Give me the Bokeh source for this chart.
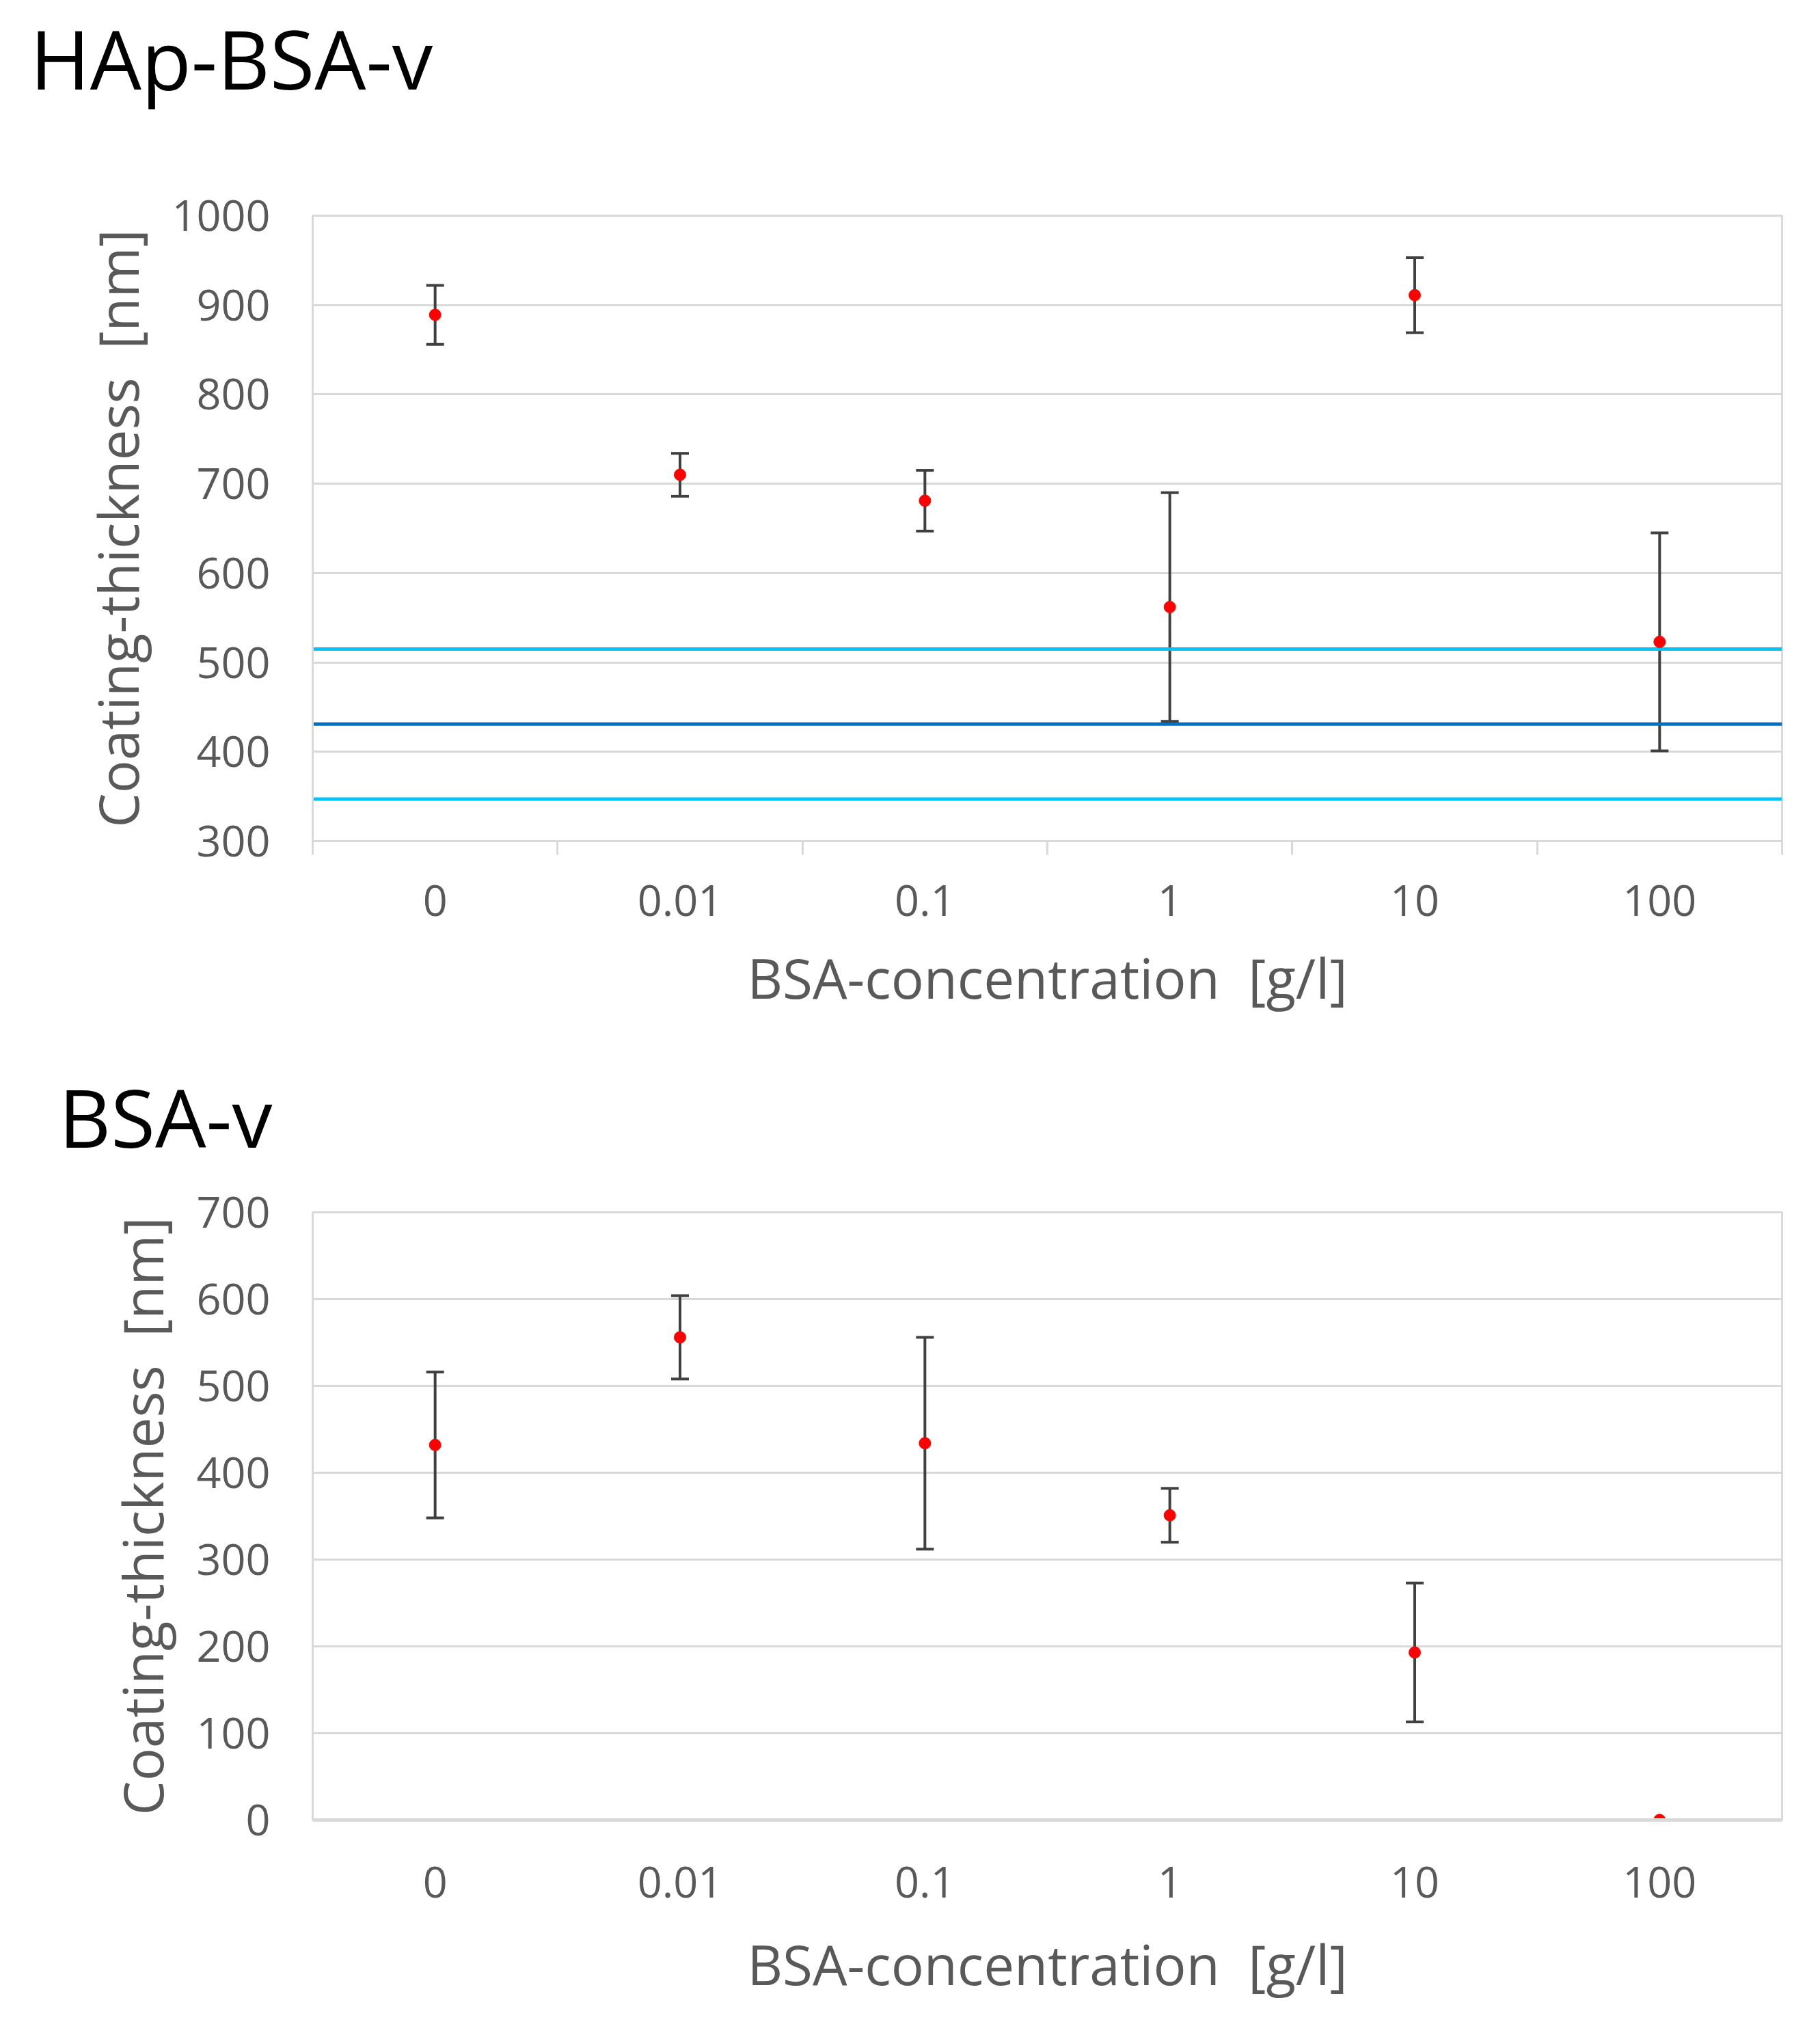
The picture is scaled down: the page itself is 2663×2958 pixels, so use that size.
import numpy as np
from bokeh.plotting import figure
from bokeh.models import Range1d, FixedTicker, Whisker, TeeHead, Span, ColumnDataSource, Div
from bokeh.layouts import column
from bokeh.embed import file_html
from bokeh.resources import INLINE

# BSA concentration [g/l], one category per column
concentrations = ["0", "0.01", "0.1", "1", "10", "100"]

# HAp-BSA-v panel
hap_thickness = [889, 710, 681, 562, 911, 523]
hap_error = [33, 24, 34, 128, 42, 122]
hap_ticks = [300, 400, 500, 600, 700, 800, 900, 1000]

# reference band (upper, mean, lower) and its colours
ref_levels = [515, 431, 347]
ref_colors = ["#00c4f4", "#0070c0", "#00c4f4"]

# BSA-v panel
bsa_thickness = [432, 556, 434, 351, 193, 0]
bsa_error = [84, 48, 122, 31, 80, 0]
bsa_ticks = [0, 100, 200, 300, 400, 500, 600, 700]

FONT = "Open Sans"
GREY_TEXT = "#595959"
GRID = "#d9d9d9"
FIG_W = 2653


def make_panel(means, errs, yticks, boundary_ticks=True, height=1349, top=110,
               bottom=324, label_standoff=44, title_standoff=32):
    n = len(concentrations)
    # two units per category: centres on odd numbers, borders on even ones
    centers = [2 * i + 1 for i in range(n)]
    borders = [2 * i for i in range(n + 1)]

    p = figure(width=FIG_W, height=height,
               x_range=Range1d(0, 2 * n),
               y_range=Range1d(yticks[0], yticks[-1]),
               output_backend="svg", toolbar_location=None, tools="",
               min_border_left=457, min_border_right=46,
               min_border_top=top, min_border_bottom=bottom)
    p.background_fill_color = "white"
    p.border_fill_color = "white"
    p.outline_line_color = GRID
    p.outline_line_width = 3

    # axes
    p.xaxis.ticker = FixedTicker(ticks=centers,
                                 minor_ticks=borders if boundary_ticks else [])
    p.xaxis.major_label_overrides = {c: lab for c, lab in zip(centers, concentrations)}
    p.xaxis.major_tick_line_color = None
    p.xaxis.major_tick_out = 0
    p.xaxis.major_tick_in = 0
    p.xaxis.minor_tick_in = 0
    p.xaxis.minor_tick_out = 20 if boundary_ticks else 0
    p.xaxis.minor_tick_line_color = GRID if boundary_ticks else None
    p.xaxis.minor_tick_line_width = 3
    p.xaxis.axis_line_color = GRID
    p.xaxis.axis_line_width = 3 if boundary_ticks else 5
    p.xaxis.major_label_standoff = label_standoff
    p.xaxis.axis_label = "BSA-concentration\u00a0 [g/l]"
    p.xaxis.axis_label_standoff = title_standoff

    p.yaxis.ticker = FixedTicker(ticks=yticks, minor_ticks=[])
    p.yaxis.major_tick_out = 0
    p.yaxis.major_tick_in = 0
    p.yaxis.axis_line_color = GRID
    p.yaxis.axis_line_width = 3
    p.yaxis.major_label_standoff = 62
    p.yaxis.axis_label = "Coating-thickness\u00a0 [nm]"
    p.yaxis.axis_label_standoff = 22

    for ax in (p.xaxis, p.yaxis):
        ax.major_label_text_font = FONT
        ax.major_label_text_font_size = "63px"
        ax.major_label_text_color = GREY_TEXT
        ax.axis_label_text_font = FONT
        ax.axis_label_text_font_size = "80px"
        ax.axis_label_text_font_style = "normal"
        ax.axis_label_text_color = GREY_TEXT

    p.xgrid.grid_line_color = None
    p.ygrid.grid_line_color = GRID
    p.ygrid.grid_line_width = 3

    src = ColumnDataSource(data=dict(
        x=centers,
        y=means,
        upper=[m + e for m, e in zip(means, errs)],
        lower=[m - e for m, e in zip(means, errs)],
    ))

    whisk = Whisker(base="x", upper="upper", lower="lower", source=src,
                    line_color="#404040", line_width=4,
                    upper_head=TeeHead(size=26, line_color="#404040", line_width=4),
                    lower_head=TeeHead(size=26, line_color="#404040", line_width=4))
    p.add_layout(whisk)

    p.scatter(x="x", y="y", source=src, size=17, marker="circle",
              fill_color="#ff0000", line_color="#ff0000")
    return p


p1 = make_panel(hap_thickness, hap_error, hap_ticks, boundary_ticks=True)
for lvl, col in zip(ref_levels, ref_colors):
    p1.add_layout(Span(location=lvl, dimension="width", line_color=col,
                       line_width=5, level="underlay"))

p2 = make_panel(bsa_thickness, bsa_error, bsa_ticks, boundary_ticks=False,
                height=1229, top=60, bottom=280, label_standoff=68, title_standoff=39)

title1 = Div(text='<div style="font-family:\'Open Sans\';font-size:119px;color:#000;'
                  'line-height:1.36;padding-top:5px;padding-left:44px;white-space:nowrap;">HAp-BSA-v</div>',
             width=FIG_W, height=205, margin=(0, 0, 0, 0))
title2 = Div(text='<div style="font-family:\'Open Sans\';font-size:118px;color:#000;'
                  'line-height:1.2;padding-top:9px;padding-left:86px;white-space:nowrap;">BSA-v</div>',
             width=FIG_W, height=159, margin=(0, 0, 0, 0))

layout = column(title1, p1, title2, p2, spacing=0)

open("out.html", "w").write(file_html(layout, INLINE))
